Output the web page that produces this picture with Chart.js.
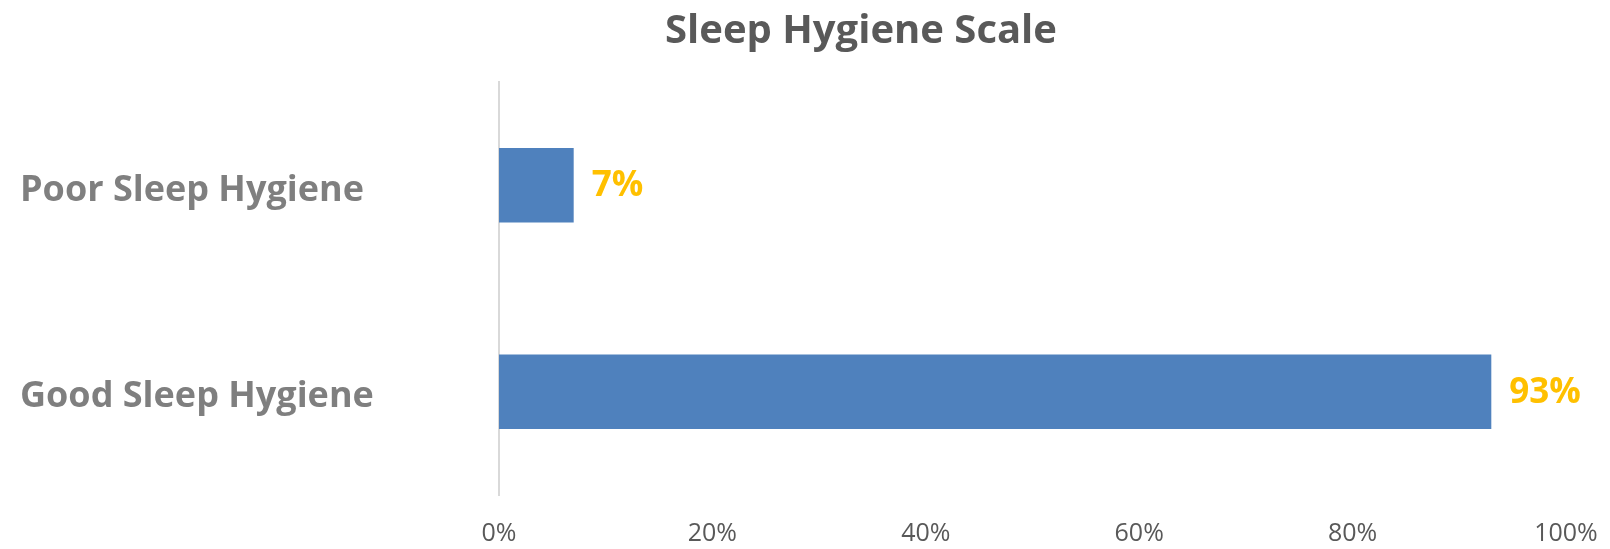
<!DOCTYPE html>
<html>
<head>
<meta charset="utf-8">
<title>Sleep Hygiene Scale</title>
<script src="https://cdn.jsdelivr.net/npm/chart.js@4/dist/chart.umd.min.js"></script>
<style>
  html, body { margin: 0; padding: 0; background: #fff; }
  canvas { display: block; }
</style>
</head>
<body>
<canvas id="sleepChart" width="1610" height="549"></canvas>
<script>
const chartTitle = 'Sleep Hygiene Scale';
const categories = ['Poor Sleep Hygiene', 'Good Sleep Hygiene'];
const shares = [7, 93]; // percent of respondents
const xTicks = [0, 20, 40, 60, 80, 100];

const FONT = '"Open Sans", "Noto Sans", sans-serif';

// title sits a bit right of the canvas centre, over the whole chart block
const titlePlugin = {
  id: 'sideTitle',
  afterDraw(chart, args, opts) {
    const ctx = chart.ctx;
    ctx.save();
    ctx.font = `bold 40px ${FONT}`;
    ctx.fillStyle = '#595959';
    ctx.textAlign = 'center';
    ctx.textBaseline = 'alphabetic';
    ctx.fillText(opts.text, opts.x, opts.y);
    ctx.restore();
  },
};

// percentage printed just past the end of each bar
const barLabels = {
  id: 'barLabels',
  afterDatasetsDraw(chart) {
    const ctx = chart.ctx;
    const meta = chart.getDatasetMeta(0);
    ctx.save();
    ctx.font = `bold 35px ${FONT}`;
    ctx.fillStyle = '#FFC000';
    ctx.textAlign = 'left';
    ctx.textBaseline = 'middle';
    meta.data.forEach((bar, i) => {
      ctx.fillText(shares[i] + '%', bar.x + 18, bar.y + 1);
    });
    ctx.restore();
  },
};

new Chart(document.getElementById('sleepChart'), {
  type: 'bar',
  data: {
    labels: categories,
    datasets: [
      {
        data: shares,
        backgroundColor: '#4F81BD',
        borderWidth: 0,
        barPercentage: 0.36,
        categoryPercentage: 1,
      },
    ],
  },
  plugins: [titlePlugin, barLabels],
  options: {
    indexAxis: 'y',
    responsive: false,
    animation: false,
    events: [],
    layout: { padding: { left: 20, top: 82, right: 44, bottom: 0 } },
    plugins: {
      legend: { display: false },
      tooltip: { enabled: false },
      title: { display: false },
      sideTitle: { text: chartTitle, x: 861, y: 43 },
    },
    scales: {
      x: {
        min: 0,
        max: 100,
        afterBuildTicks: (scale) => {
          scale.ticks = xTicks.map((v) => ({ value: v }));
        },
        afterFit: (scale) => {
          scale.height = 54;
        },
        // tick marks are hidden with the grid; their length only spaces the labels
        grid: { display: false, drawTicks: true, tickLength: 24 },
        border: { display: false },
        ticks: {
          padding: 0,
          color: '#595959',
          font: { family: FONT, size: 25 },
          maxRotation: 0,
          callback: (v) => v + '%',
        },
      },
      y: {
        afterFit: (scale) => {
          scale.width = 479;
        },
        grid: { display: false, drawTicks: false },
        border: { display: true, color: '#d9d9d9', width: 2 },
        ticks: {
          crossAlign: 'far',
          labelOffset: 5,
          color: '#7f7f7f',
          font: { family: FONT, size: 36, weight: 'bold' },
        },
      },
    },
  },
});
</script>
</body>
</html>
